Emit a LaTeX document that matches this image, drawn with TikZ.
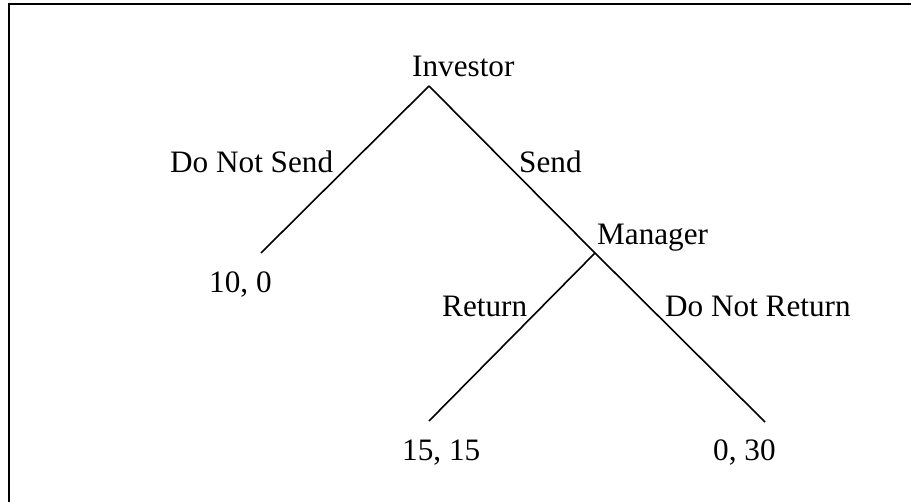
\documentclass[tikz,border=0pt]{standalone}
\usepackage{fontspec}
\setmainfont{Liberation Serif}
\begin{document}
\begin{tikzpicture}[x=1pt,y=-1pt,
  branch/.style={line width=1.6pt, black, line cap=butt},
  lbl/.style={anchor=base west, inner sep=0pt, font=\fontsize{31.2}{36}\selectfont},
  frame/.style={line width=2pt, black}]
\useasboundingbox (0,0) rectangle (911,502);

% frame edges
\draw[frame] (9,502) -- (9,4.5) -- (911,4.5);

% decision points and terminal ends
\coordinate (inv) at (429,86);
\coordinate (dns) at (261,253);
\coordinate (mgr) at (595,253);
\coordinate (ret) at (429,421);
\coordinate (dnr) at (765,422);

% branches
\draw[branch] (inv) -- (dns);
\draw[branch] (inv) -- (mgr);
\draw[branch] (mgr) -- (ret);
\draw[branch] (mgr) -- (dnr);

% player names
\node[lbl] (investor) at (412,77) {Investor};
\node[lbl] (manager) at (597,245) {Manager};

% action labels
\node[lbl] (donotsend) at (170,173) {Do Not Send};
\node[lbl] (send) at (519,173) {Send};
\node[lbl] (return) at (442,317) {Return};
\node[lbl] (donotreturn) at (665,317) {Do Not Return};

% payoffs
\node[lbl] (pay1) at (209,293) {10, 0};
\node[lbl] (pay2) at (402,461) {15, 15};
\node[lbl] (pay3) at (713,461) {0, 30};
\end{tikzpicture}
\end{document}
